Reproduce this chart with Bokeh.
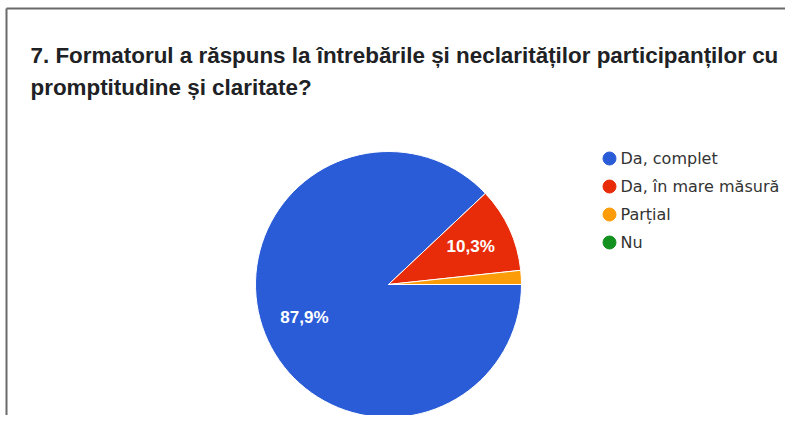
import math
from bokeh.plotting import figure
from bokeh.models import Range1d, Label, ColumnDataSource
from bokeh.core.properties import value
from bokeh.embed import file_html
from bokeh.resources import INLINE

# ---- data ----
title_lines = [
    "7. Formatorul a răspuns la întrebările și neclarităților participanților cu",
    "promptitudine și claritate?",
]
categories = ["Da, complet", "Da, în mare măsură", "Parțial", "Nu"]
percentages = [87.9, 10.3, 1.7, 0.0]
colors = ["#2a5cd8", "#e82c0a", "#fb9c08", "#13911f"]

# ---- figure (1 data unit = 1 pixel, y up) ----
W, H = 785, 415
p = figure(width=W, height=H, x_range=Range1d(0, W), y_range=Range1d(0, H),
           output_backend="svg", toolbar_location=None, min_border=0,
           background_fill_color="white", border_fill_color="white")
p.axis.visible = False
p.grid.visible = False
p.outline_line_color = None

def Y(y):
    return H - y

# frame lines (top and left)
p.segment(x0=[6, 6], y0=[Y(8), Y(8)], x1=[W, 6], y1=[Y(8), 0],
          line_color="#6a6a6a", line_width=2)

# title
for i, line in enumerate(title_lines):
    p.add_layout(Label(x=30, y=Y(54.5 + i * 32.4), text=line, text_font="Liberation Sans",
                       text_font_style="bold", text_font_size="22.4px", text_color="#202124",
                       text_baseline="alphabetic", text_align="left"))

# pie
cx, cy, r = 388, Y(284), 133
total = sum(percentages)
starts, ends, cols, labs, lx, ly = [], [], [], [], [], []
cum = 0.0
for cat, v, c in zip(categories, percentages, colors):
    a0 = -cum / total * 2 * math.pi
    cum += v
    a1 = -cum / total * 2 * math.pi
    if v > 0:
        starts.append(a0)
        ends.append(a1)
        cols.append(c)
    if v / total >= 0.05:
        mid = (a0 + a1) / 2
        labs.append(f"{v:.1f}".replace(".", ",") + "%")
        lx.append(cx + 0.68 * r * math.cos(mid))
        ly.append(cy + 0.68 * r * math.sin(mid))

src = ColumnDataSource(dict(start=starts, end=ends, color=cols))
p.wedge(x=cx, y=cy, radius=r, start_angle="start", end_angle="end", direction="clock",
        fill_color="color", line_color="white", line_width=1, source=src)

p.text(x=lx, y=ly, text=labs, text_color="white", text_font=value("Liberation Sans"),
       text_font_style="bold", text_font_size="17px", text_align="center",
       text_baseline="middle")

# legend
leg_x = [609] * len(categories)
leg_y = [Y(158 + i * 28) for i in range(len(categories))]
p.scatter(x=leg_x, y=leg_y, size=13, marker="circle", fill_color=colors, line_color=colors)
p.text(x=[620] * len(categories), y=leg_y, text=categories, text_color="#333333",
       text_font=value("DejaVu Sans"), text_font_size="16px", text_align="left",
       text_baseline="middle")

open("out.html", "w").write(file_html(p, INLINE))
